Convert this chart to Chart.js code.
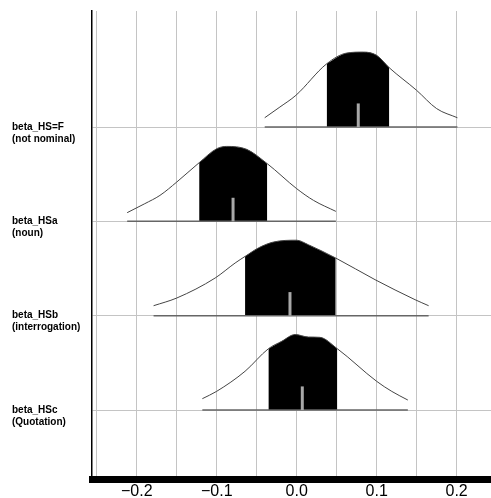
<!DOCTYPE html>
<html><head><meta charset="utf-8">
<script src="https://cdn.jsdelivr.net/npm/chart.js@4"></script>
<style>html,body{margin:0;padding:0;background:#fff}canvas{display:block}</style>
</head><body>
<canvas id="c" width="491" height="498"></canvas>
<script>
// Parameter labels (top to bottom) and their row position on the y scale
const PARAMS = ['beta_HS=F', 'beta_HSa', 'beta_HSb', 'beta_HSc'];
const PARAM_NOTES = ['(not nominal)', '(noun)', '(interrogation)', '(Quotation)'];
const ROW_POS = [3, 2, 1, 0];

// Posterior density curves (x = coefficient value, d = relative density)
const HSF_X = [-0.040, -0.021, -0.001, 0.0375, 0.0625, 0.0833, 0.100, 0.1158, 0.150, 0.175, 0.201];
const HSF_D = [0.123, 0.265, 0.420, 0.838, 0.980, 0.993, 0.950, 0.785, 0.486, 0.244, 0.123];

const HSA_X = [-0.212, -0.190, -0.171, -0.150, -0.122, -0.100, -0.0875, -0.0625, -0.0368, 0.000, 0.021, 0.049];
const HSA_D = [0.115, 0.234, 0.344, 0.521, 0.777, 0.963, 0.993, 0.954, 0.764, 0.433, 0.278, 0.132];

const HSB_X = [-0.179, -0.150, -0.102, -0.077, -0.0646, -0.048, -0.029, 0.000, 0.0146, 0.0488, 0.098, 0.148, 0.165];
const HSB_D = [0.132, 0.234, 0.499, 0.698, 0.785, 0.897, 0.976, 1.000, 0.940, 0.764, 0.477, 0.212, 0.132];

const HSC_X = [-0.118, -0.100, -0.0646, -0.0354, -0.0188, -0.002, 0.0146, 0.029, 0.0508, 0.100, 0.119, 0.139];
const HSC_D = [0.150, 0.248, 0.513, 0.812, 0.910, 1.000, 0.967, 0.963, 0.812, 0.380, 0.246, 0.132];

// Shaded interval bounds and medians
const CI_LO = [0.0375, -0.122, -0.0646, -0.0354];
const CI_HI = [0.1158, -0.0368, 0.0488, 0.0508];
const MEDIANS = [0.077, -0.0796, -0.0084, 0.007];

// x axis tick labels
const X_TICK_VALUES = [-0.2, -0.1, 0.0, 0.1, 0.2];
const X_TICK_LABELS = ['\u22120.2', '\u22120.1', '0.0', '0.1', '0.2'];

// ---- styling / construction ----
const DENS_X = [HSF_X, HSA_X, HSB_X, HSC_X];
const DENS_D = [HSF_D, HSA_D, HSB_D, HSC_D];
const HEIGHT = 0.80;     // row units per unit of relative density
const TICK_H = 0.25;     // height of the median marker in row units

const datasets = [];
for (let i = 0; i < PARAMS.length; i++) {
  const row = ROW_POS[i];
  const xs = DENS_X[i], ds = DENS_D[i];
  const curve = xs.map((x, k) => ({x: x, y: row + ds[k] * HEIGHT}));
  const shaded = curve.filter(p => p.x >= CI_LO[i] - 1e-9 && p.x <= CI_HI[i] + 1e-9);
  datasets.push({
    data: shaded, order: 3, borderWidth: 0, pointRadius: 0,
    backgroundColor: '#000', fill: {value: row}, cubicInterpolationMode: 'monotone'
  });
  datasets.push({
    data: curve, order: 2, borderWidth: 1, borderColor: '#444', pointRadius: 0,
    fill: false, cubicInterpolationMode: 'monotone'
  });
  datasets.push({
    data: [{x: xs[0], y: row}, {x: xs[xs.length - 1], y: row}], order: 2,
    borderWidth: 1.5, borderColor: '#666', pointRadius: 0, fill: false
  });
  datasets.push({
    data: [{x: MEDIANS[i], y: row}, {x: MEDIANS[i], y: row + TICK_H}], order: 1,
    borderWidth: 3, borderColor: '#a8a8a8', pointRadius: 0, fill: false, borderCapStyle: 'butt'
  });
}

new Chart(document.getElementById('c'), {
  type: 'line',
  data: {datasets: datasets},
  options: {
    responsive: false, animation: false, devicePixelRatio: 1,
    layout: {padding: {left: 12, top: 11, right: 0, bottom: 0}},
    plugins: {legend: {display: false}, tooltip: {enabled: false}},
    scales: {
      x: {
        type: 'linear', min: -0.256, max: 0.243,
        afterFit: s => { s.height = 19; s.paddingLeft = 0; s.paddingRight = 0; },
        grid: {color: '#c4c4c4', lineWidth: 1, drawTicks: false},
        border: {display: true, color: '#000', width: 7},
        ticks: {
          stepSize: 0.05, includeBounds: false, autoSkip: false, maxRotation: 0, padding: 3,
          color: '#000', font: {family: 'Liberation Sans', size: 16},
          callback: v => {
            const idx = X_TICK_VALUES.findIndex(t => Math.abs(t - v) < 1e-6);
            return idx >= 0 ? X_TICK_LABELS[idx] : '';
          }
        }
      },
      y: {
        type: 'linear', min: -0.7315, max: 4.23,
        afterFit: s => { s.width = 80; s.paddingTop = 0; s.paddingBottom = 0; },
        afterBuildTicks: s => { s.ticks = ROW_POS.map(v => ({value: v})); },
        grid: {color: '#c4c4c4', lineWidth: 1, drawTicks: false},
        border: {display: true, color: '#000', width: 1.5},
        ticks: {
          crossAlign: 'far', padding: 0, color: '#000',
          font: {family: 'Liberation Sans', size: 10, weight: 'bold', lineHeight: 1.2},
          callback: v => {
            const idx = ROW_POS.indexOf(v);
            return idx >= 0 ? ['', PARAMS[idx], PARAM_NOTES[idx]] : '';
          }
        }
      }
    }
  }
});
</script>
</body></html>
